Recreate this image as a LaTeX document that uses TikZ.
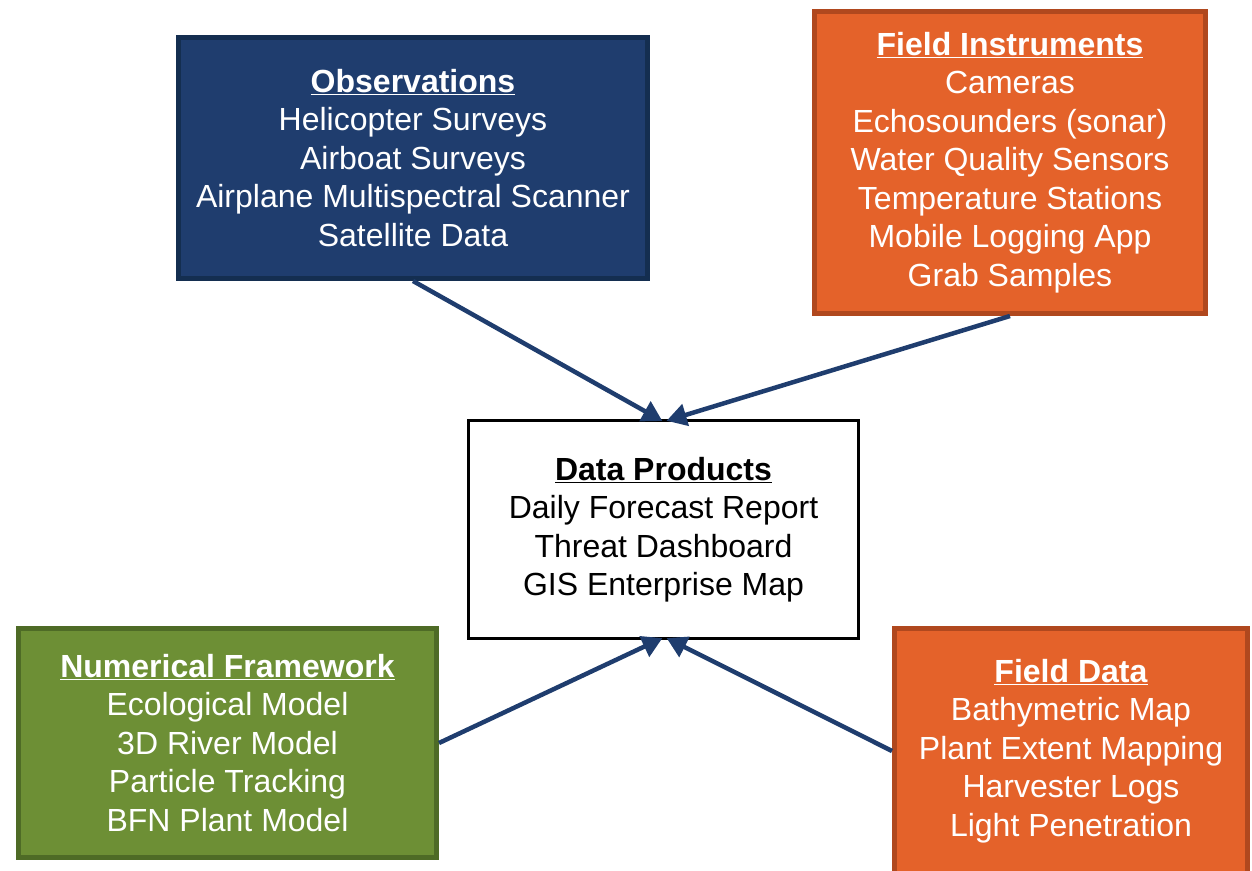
\documentclass[tikz,border=0pt]{standalone}
\usepackage{fontspec}
\setmainfont{Liberation Sans}
\usetikzlibrary{arrows.meta}
\definecolor{navyfill}{RGB}{31,61,110}
\definecolor{navyline}{RGB}{20,46,80}
\definecolor{orangefill}{RGB}{228,98,42}
\definecolor{orangeline}{RGB}{176,72,30}
\definecolor{greenfill}{RGB}{109,143,53}
\definecolor{greenline}{RGB}{78,107,38}
\definecolor{arrowblue}{RGB}{31,61,110}
\tikzset{
  x=1pt, y=-1pt,
  infobox/.style={rectangle, line width=5pt, text=white, align=center,
    inner sep=0pt, font=\fontsize{32}{38.5}\selectfont},
  hub/.style={rectangle, draw=black, line width=3pt, fill=white, align=center,
    inner sep=0pt, font=\fontsize{32}{38.5}\selectfont},
  feed/.style={draw=arrowblue, line width=4.5pt,
    -{Triangle[length=20pt,width=22pt]}, shorten >=-1pt},
}
\newcommand{\boxtitle}[1]{\underline{\textbf{#1}}}
\begin{document}
\begin{tikzpicture}
\useasboundingbox (0,0) rectangle (1252,870);
\begin{scope}
\clip (0,0) rectangle (1252,870);

% source boxes
\node[infobox, fill=navyfill, draw=navyline,
  minimum width=469pt, minimum height=241pt] (obs) at (413,158)
  {\boxtitle{Observations}\\Helicopter Surveys\\Airboat Surveys\\Airplane Multispectral Scanner\\Satellite Data};

\node[infobox, fill=orangefill, draw=orangeline,
  minimum width=391pt, minimum height=302pt] (fi) at (1010,162.5)
  {\boxtitle{Field Instruments}\\Cameras\\Echosounders (sonar)\\Water Quality Sensors\\Temperature Stations\\Mobile Logging App\\Grab Samples};

\node[infobox, fill=greenfill, draw=greenline,
  minimum width=418pt, minimum height=229pt] (nf) at (227.5,743)
  {\boxtitle{Numerical Framework}\\Ecological Model\\3D River Model\\Particle Tracking\\BFN Plant Model};

\node[infobox, fill=orangefill, draw=orangeline,
  minimum width=353pt, minimum height=245pt] (fd) at (1071,751)
  {\boxtitle{Field Data}\\Bathymetric Map\\Plant Extent Mapping\\Harvester Logs\\Light Penetration};

% central product box
\node[hub, minimum width=390pt, minimum height=218pt] (dp) at (663.5,529.5)
  {\boxtitle{Data Products}\\Daily Forecast Report\\Threat Dashboard\\GIS Enterprise Map};

% feeds into the products box
\draw[feed] (obs.south) -- ([xshift=-2pt,yshift=-1.5pt]dp.north);
\draw[feed] (fi.south) -- ([xshift=4pt,yshift=-1.5pt]dp.north);
\draw[feed] (nf.east) -- ([xshift=-2pt,yshift=1.5pt]dp.south);
\draw[feed] (fd.west) -- ([xshift=4pt,yshift=1.5pt]dp.south);
\end{scope}
\end{tikzpicture}
\end{document}
